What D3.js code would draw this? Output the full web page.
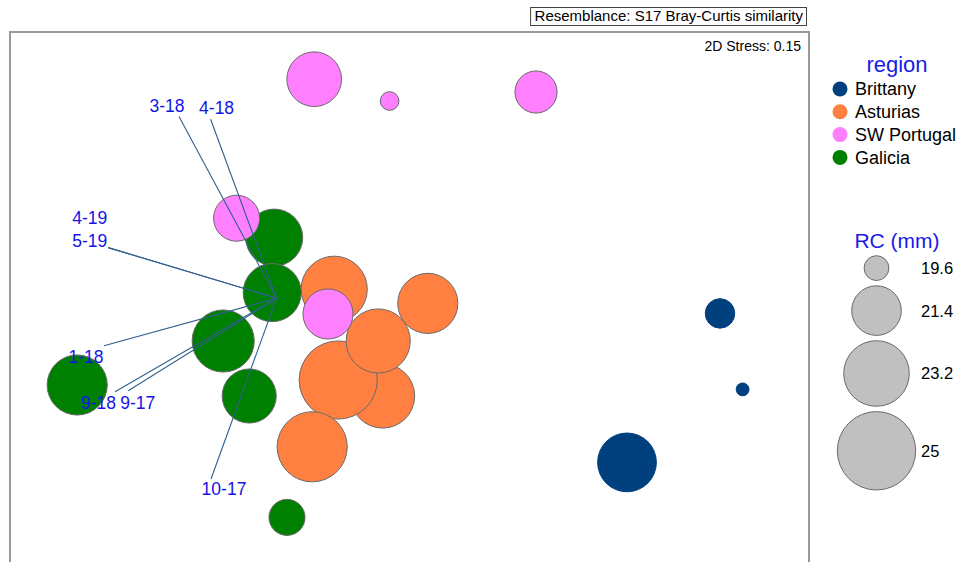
<!DOCTYPE html>
<html>
<head>
<meta charset="utf-8">
<script src="https://cdn.jsdelivr.net/npm/d3@7"></script>
<style>
  html, body { margin: 0; padding: 0; background: #fff; }
  svg { display: block; font-family: "Liberation Sans", Arial, sans-serif; }
</style>
</head>
<body>
<svg id="chart" width="959" height="562"></svg>
<script>
// ---- data (MDS coordinates, RC in mm) ----
const regions = ["Brittany", "Asturias", "SW Portugal", "Galicia"];
const regionColors = ["#00407f", "#ff8040", "#ff80ff", "#008000"];

const sampleRegion = [
  "Asturias","Asturias","Asturias","Asturias","Asturias","Asturias",
  "Galicia","Galicia","Galicia","Galicia","Galicia","Galicia",
  "SW Portugal","SW Portugal","SW Portugal","SW Portugal","SW Portugal",
  "Brittany","Brittany","Brittany"
];
const mdsX = [
  -0.137, -0.359, -0.159, -0.379, 0.089, -0.489,
  -0.679, -0.689, -0.934, -0.804, -1.664, -0.615,
  -0.867, -0.410, -0.479, -0.102, 0.630,
  1.085, 1.550, 1.663
];
const mdsY = [
  -0.480, -0.400, -0.205, 0.054, -0.017, -0.734,
  0.312, 0.037, -0.205, -0.480, -0.425, -1.087,
  0.409, -0.070, 1.104, 0.995, 1.040,
  -0.812, -0.067, -0.447
];
const rcValues = [
  23.02, 24.96, 23.02, 23.27, 22.53, 23.80,
  22.18, 22.30, 22.77, 21.86, 22.53, 20.27,
  21.07, 21.45, 21.92, 19.34, 20.73,
  22.37, 19.85, 19.16
];

// vectors (from common origin)
const vectorOrigin = [-0.667, 0.009];
const vectorNames = ["3-18", "4-18", "4-19", "5-19", "1-18", "9-18", "9-17", "10-17"];
const vectorEndX = [-1.155, -0.997, -1.509, -1.509, -1.530, -1.475, -1.409, -0.995];
const vectorEndY = [0.917, 0.904, 0.262, 0.262, -0.229, -0.459, -0.454, -0.895];

const sizeLegendValues = [19.6, 21.4, 23.2, 25];
const stressLabel = "2D Stress: 0.15";
const resemblanceLabel = "Resemblance: S17 Bray-Curtis similarity";

// ---- layout ----
const svg = d3.select("#chart");
const plot = { left: 10, right: 809, top: 32, bottom: 575 };

const x = d3.scaleLinear().domain([-2, 1.995]).range([plot.left, plot.right]);
const y = d3.scaleLinear().domain([1.34, -1.375]).range([plot.top, plot.bottom]);
const areaScale = d3.scaleLinear().domain([19.0, 25]).range([0, 1537]);
const radius = v => Math.sqrt(Math.max(0, areaScale(v)));
const color = d3.scaleOrdinal().domain(regions).range(regionColors);

// resemblance box
const resText = svg.append("text")
  .attr("x", 803).attr("y", 21)
  .attr("text-anchor", "end")
  .attr("font-size", 15)
  .attr("fill", "#000")
  .text(resemblanceLabel);
const rb = resText.node().getBBox();
svg.insert("rect", "text")
  .attr("x", rb.x - 4).attr("y", 7.5)
  .attr("width", rb.width + 7).attr("height", 18)
  .attr("fill", "#fff").attr("stroke", "#444").attr("stroke-width", 1);

// plot frame
svg.append("rect")
  .attr("x", plot.left).attr("y", plot.top)
  .attr("width", plot.right - plot.left).attr("height", plot.bottom - plot.top)
  .attr("fill", "none").attr("stroke", "#999").attr("stroke-width", 2);

svg.append("text")
  .attr("x", 801).attr("y", 51)
  .attr("text-anchor", "end")
  .attr("font-size", 14)
  .attr("fill", "#000")
  .text(stressLabel);

// bubbles
const points = mdsX.map((d, i) => ({ x: d, y: mdsY[i], rc: rcValues[i], region: sampleRegion[i] }));
svg.append("g").selectAll("circle")
  .data(points)
  .join("circle")
  .attr("cx", d => x(d.x))
  .attr("cy", d => y(d.y))
  .attr("r", d => radius(d.rc))
  .attr("fill", d => color(d.region))
  .attr("stroke", d => d.region === "Brittany" ? color(d.region) : "#6a6a6a")
  .attr("stroke-width", 1);

// vectors
const vectors = vectorNames.map((n, i) => ({ name: n, x: vectorEndX[i], y: vectorEndY[i] }));
svg.append("g").selectAll("line")
  .data(vectors)
  .join("line")
  .attr("x1", x(vectorOrigin[0])).attr("y1", y(vectorOrigin[1]))
  .attr("x2", d => x(d.x)).attr("y2", d => y(d.y))
  .attr("stroke", "#2f5f8f").attr("stroke-width", 1.1);

// label offsets (pixels, relative to vector tip; label centre)
const labelOffset = {
  "3-18": [-12, -10.5], "4-18": [6, -12], "4-19": [-18.5, -29.5], "5-19": [-18.5, -7],
  "1-18": [-18, 11], "9-18": [-16.5, 10.5], "9-17": [9.5, 11.5], "10-17": [13, 10]
};
svg.append("g").selectAll("text")
  .data(vectors)
  .join("text")
  .attr("x", d => x(d.x) + labelOffset[d.name][0])
  .attr("y", d => y(d.y) + labelOffset[d.name][1])
  .attr("dy", "0.36em")
  .attr("text-anchor", "middle")
  .attr("font-size", 17.5)
  .attr("fill", "#1414e6")
  .text(d => d.name);

// region legend
svg.append("text")
  .attr("x", 897).attr("y", 71.5)
  .attr("text-anchor", "middle")
  .attr("font-size", 22)
  .attr("fill", "#1a1ae6")
  .text("region");
const lg = svg.append("g").selectAll("g")
  .data(regions)
  .join("g")
  .attr("transform", (d, i) => `translate(840,${89 + i * 22.8})`);
lg.append("circle").attr("r", 7.5).attr("fill", d => color(d));
lg.append("text")
  .attr("x", 15).attr("dy", "0.36em")
  .attr("font-size", 18)
  .attr("fill", "#000")
  .text(d => d);

// size legend
svg.append("text")
  .attr("x", 897).attr("y", 248)
  .attr("text-anchor", "middle")
  .attr("font-size", 21)
  .attr("fill", "#1a1ae6")
  .text("RC (mm)");
let cursor = 255.7;
const sizeItems = sizeLegendValues.map(v => {
  const r = radius(v);
  const cy = cursor + r;
  cursor = cy + r + 5.3;
  return { v, r, cy };
});
const sg = svg.append("g").selectAll("g")
  .data(sizeItems)
  .join("g");
sg.append("circle")
  .attr("cx", 876.5).attr("cy", d => d.cy).attr("r", d => d.r)
  .attr("fill", "#c0c0c0").attr("stroke", "#6a6a6a").attr("stroke-width", 1);
sg.append("text")
  .attr("x", 921).attr("y", d => d.cy).attr("dy", "0.36em")
  .attr("font-size", 16.5)
  .attr("fill", "#000")
  .text(d => d.v);
</script>
</body>
</html>
